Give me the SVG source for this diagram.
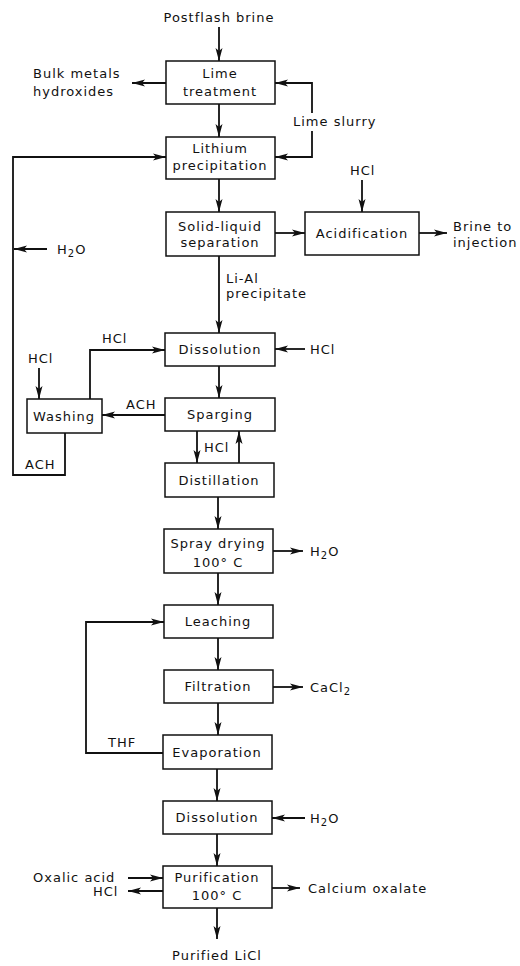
<svg xmlns="http://www.w3.org/2000/svg" width="520" height="966" viewBox="0 0 520 966">
<defs>
<marker id="ah" markerUnits="userSpaceOnUse" markerWidth="14" markerHeight="8" refX="13" refY="4" orient="auto">
<path d="M0,0.5 L13,4 L0,7.5 L3,4 z" fill="#111"/>
</marker>
<style>
.box{fill:#fff;stroke:#111;stroke-width:1.5}
.ln{fill:none;stroke:#111;stroke-width:1.8}
.ar{fill:none;stroke:#111;stroke-width:1.8;marker-end:url(#ah)}
text{font-family:"DejaVu Sans","Liberation Sans",sans-serif;font-size:13px;letter-spacing:1px;fill:#111}
.c{text-anchor:middle}
.sub{font-size:10px}
</style>
</defs>
<rect width="520" height="966" fill="#fff"/>

<g id="connectors">
<line class="ar" x1="219" y1="27" x2="219" y2="61"/>
<line class="ar" x1="166" y1="83" x2="132" y2="83"/>
<line class="ar" x1="219" y1="104" x2="219" y2="137"/>
<polyline class="ar" points="312,113 312,83 275,83"/>
<polyline class="ar" points="312,131 312,157 275,157"/>
<polyline class="ar" points="65,433 65,475 13,475 13,157 166,157"/>
<line class="ar" x1="47" y1="249" x2="14" y2="249"/>
<line class="ar" x1="219" y1="179" x2="219" y2="212"/>
<line class="ar" x1="275" y1="233" x2="305" y2="233"/>
<line class="ar" x1="362" y1="180" x2="362" y2="212"/>
<line class="ar" x1="419" y1="233" x2="447" y2="233"/>
<line class="ar" x1="219" y1="256" x2="219" y2="333"/>
<line class="ar" x1="305" y1="349" x2="275" y2="349"/>
<polyline class="ar" points="90,399 90,350 165,350"/>
<line class="ar" x1="39" y1="368" x2="39" y2="399"/>
<line class="ar" x1="219" y1="366" x2="219" y2="398"/>
<line class="ar" x1="165" y1="415" x2="102" y2="415"/>
<line class="ar" x1="197" y1="431" x2="197" y2="463"/>
<line class="ar" x1="239" y1="463" x2="239" y2="431"/>
<line class="ar" x1="218" y1="497" x2="218" y2="529"/>
<line class="ar" x1="273" y1="551" x2="303" y2="551"/>
<line class="ar" x1="218" y1="573" x2="218" y2="605"/>
<polyline class="ar" points="163,753 86,753 86,622 164,622"/>
<line class="ar" x1="218" y1="638" x2="218" y2="670"/>
<line class="ar" x1="273" y1="687" x2="303" y2="687"/>
<line class="ar" x1="218" y1="703" x2="218" y2="735"/>
<line class="ar" x1="217" y1="769" x2="217" y2="801"/>
<line class="ar" x1="305" y1="818" x2="272" y2="818"/>
<line class="ar" x1="217" y1="834" x2="217" y2="866"/>
<line class="ar" x1="128" y1="878" x2="163" y2="878"/>
<line class="ar" x1="163" y1="891" x2="128" y2="891"/>
<line class="ar" x1="272" y1="888" x2="300" y2="888"/>
<line class="ar" x1="217" y1="908" x2="217" y2="939"/>
</g>

<g id="labels">
<text class="c" x="219" y="22">Postflash brine</text>
<text x="33" y="78">Bulk metals</text>
<text x="33" y="96">hydroxides</text>
<text x="293" y="126">Lime slurry</text>
<text x="57" y="254">H<tspan class="sub" dy="3">2</tspan><tspan dy="-3">O</tspan></text>
<text x="350" y="175">HCl</text>
<text x="453" y="231">Brine to</text>
<text x="453" y="247">injection</text>
<text x="226" y="283">Li-Al</text>
<text x="226" y="298">precipitate</text>
<text x="310" y="354">HCl</text>
<text x="102" y="343">HCl</text>
<text x="28" y="363">HCl</text>
<text x="126" y="409">ACH</text>
<text x="25" y="469">ACH</text>
<text x="204" y="452">HCl</text>
<text x="310" y="556">H<tspan class="sub" dy="3">2</tspan><tspan dy="-3">O</tspan></text>
<text x="108" y="747">THF</text>
<text x="310" y="692">CaCl<tspan class="sub" dy="3">2</tspan></text>
<text x="310" y="823">H<tspan class="sub" dy="3">2</tspan><tspan dy="-3">O</tspan></text>
<text x="33" y="882">Oxalic acid</text>
<text x="93" y="896">HCl</text>
<text x="308" y="893">Calcium oxalate</text>
<text class="c" x="217" y="960">Purified LiCl</text>
</g>

<g id="lime-treatment"><rect class="box" x="166" y="61" width="109" height="43"/><text class="c" x="220" y="78">Lime</text><text class="c" x="220" y="96">treatment</text></g>
<g id="lithium-precipitation"><rect class="box" x="166" y="137" width="109" height="42"/><text class="c" x="220" y="153">Lithium</text><text class="c" x="220" y="170">precipitation</text></g>
<g id="solid-liquid-separation"><rect class="box" x="166" y="212" width="109" height="44"/><text class="c" x="220" y="231">Solid-liquid</text><text class="c" x="220" y="247">separation</text></g>
<g id="acidification"><rect class="box" x="305" y="212" width="114" height="43"/><text class="c" x="362" y="238">Acidification</text></g>
<g id="dissolution-1"><rect class="box" x="165" y="333" width="110" height="33"/><text class="c" x="220" y="354">Dissolution</text></g>
<g id="washing"><rect class="box" x="27" y="399" width="75" height="34"/><text class="c" x="64" y="421">Washing</text></g>
<g id="sparging"><rect class="box" x="165" y="398" width="110" height="33"/><text class="c" x="220" y="419">Sparging</text></g>
<g id="distillation"><rect class="box" x="165" y="463" width="109" height="34"/><text class="c" x="219" y="485">Distillation</text></g>
<g id="spray-drying"><rect class="box" x="164" y="529" width="109" height="44"/><text class="c" x="218" y="548">Spray drying</text><text class="c" x="218" y="567">100° C</text></g>
<g id="leaching"><rect class="box" x="164" y="605" width="109" height="33"/><text class="c" x="218" y="626">Leaching</text></g>
<g id="filtration"><rect class="box" x="164" y="670" width="109" height="33"/><text class="c" x="218" y="691">Filtration</text></g>
<g id="evaporation"><rect class="box" x="163" y="735" width="109" height="34"/><text class="c" x="217" y="757">Evaporation</text></g>
<g id="dissolution-2"><rect class="box" x="163" y="801" width="109" height="33"/><text class="c" x="217" y="822">Dissolution</text></g>
<g id="purification"><rect class="box" x="163" y="866" width="109" height="42"/><text class="c" x="217" y="882">Purification</text><text class="c" x="217" y="900">100° C</text></g>
</svg>
